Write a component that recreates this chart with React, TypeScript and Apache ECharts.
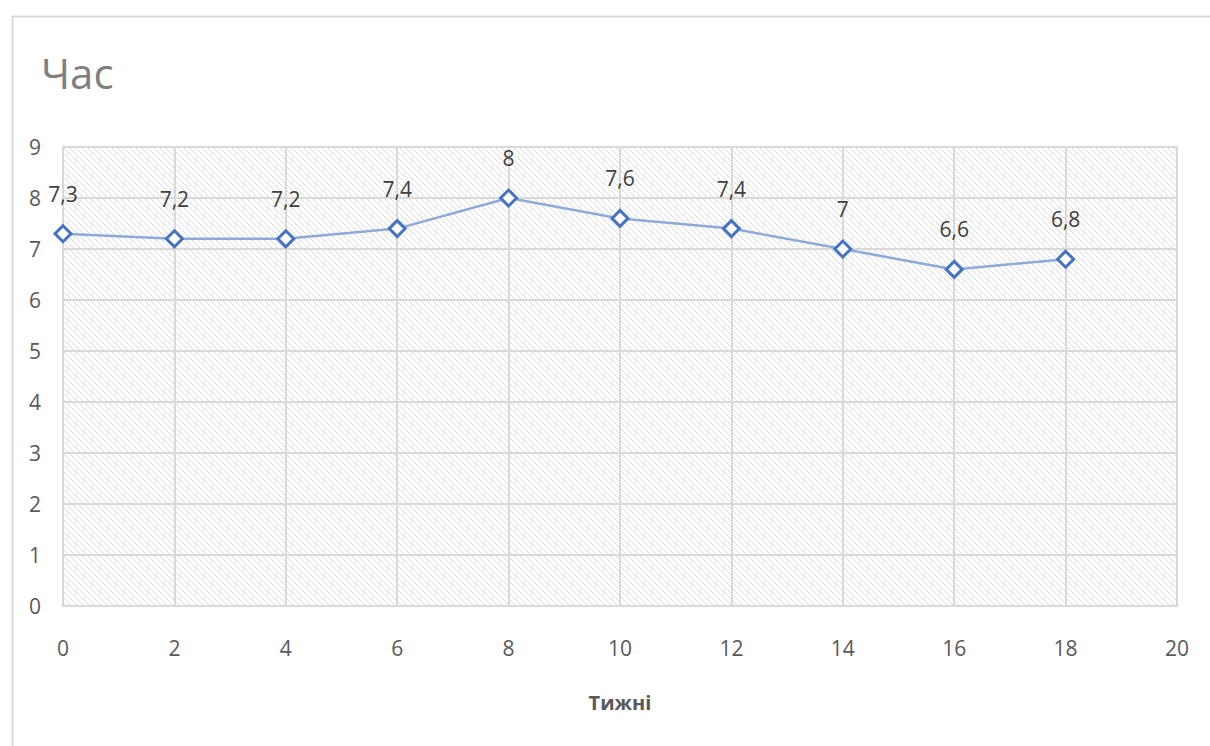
import React, { useEffect, useRef } from "react";
import * as echarts from "echarts";

// Weekly hours
const weeks: number[] = [0, 2, 4, 6, 8, 10, 12, 14, 16, 18];
const hours: number[] = [7.3, 7.2, 7.2, 7.4, 8, 7.6, 7.4, 7, 6.6, 6.8];

const titleText = "Час";
const xAxisName = "Тижні";

const FONT = "'Open Sans', sans-serif";

// Diagonal hatch tile used as the plot-area fill
function makeHatch(): HTMLCanvasElement {
  const size = 6;
  const c = document.createElement("canvas");
  c.width = size;
  c.height = size;
  const ctx = c.getContext("2d")!;
  ctx.fillStyle = "#ffffff";
  ctx.fillRect(0, 0, size, size);
  ctx.strokeStyle = "#dcdcdc";
  ctx.lineWidth = 1;
  ctx.beginPath();
  ctx.moveTo(-1, -1);
  ctx.lineTo(size + 1, size + 1);
  ctx.moveTo(size - 1, -1);
  ctx.lineTo(size + 1, 1);
  ctx.moveTo(-1, size - 1);
  ctx.lineTo(1, size + 1);
  ctx.stroke();
  return c;
}

export default function App() {
  const ref = useRef<HTMLDivElement>(null);

  useEffect(() => {
    if (!ref.current) return;
    const chart = echarts.init(ref.current, null, { renderer: "svg" });
    const hatch = makeHatch();

    chart.setOption({
      animation: false,
      backgroundColor: "#ffffff",
      textStyle: { fontFamily: FONT },
      title: {
        text: titleText,
        left: 36,
        top: 46,
        textStyle: {
          fontFamily: FONT,
          fontSize: 42,
          fontWeight: "normal",
          color: "#7f7f7f",
        },
      },
      graphic: [
        {
          type: "rect",
          left: 10,
          top: 14,
          shape: { width: 1300, height: 800 },
          style: { fill: "none", stroke: "#d9d9d9", lineWidth: 2 },
          silent: true,
          z: -10,
        },
      ],
      grid: {
        show: true,
        left: 63,
        right: 33,
        top: 147,
        bottom: 140,
        backgroundColor: {
          image: hatch,
          repeat: "repeat",
          imageWidth: 6,
          imageHeight: 6,
        },
        borderColor: "#d9d9d9",
        borderWidth: 2,
      },
      xAxis: {
        type: "value",
        min: 0,
        max: 20,
        interval: 2,
        name: xAxisName,
        nameLocation: "middle",
        nameGap: 86,
        nameTextStyle: {
          fontFamily: FONT,
          fontSize: 20,
          fontWeight: "bold",
          color: "#595959",
        },
        axisLine: { show: false },
        axisTick: { show: false },
        axisLabel: {
          margin: 31,
          fontSize: 21,
          color: "#595959",
          fontFamily: FONT,
        },
        splitLine: { show: true, lineStyle: { color: "#d9d9d9", width: 2 } },
      },
      yAxis: {
        type: "value",
        min: 0,
        max: 9,
        interval: 1,
        axisLine: { show: false },
        axisTick: { show: false },
        axisLabel: {
          margin: 22,
          fontSize: 21,
          color: "#595959",
          fontFamily: FONT,
        },
        splitLine: { show: true, lineStyle: { color: "#d9d9d9", width: 2 } },
      },
      series: [
        {
          type: "line",
          data: weeks.map((w, i) => [w, hours[i]]),
          lineStyle: { color: "#8eaadb", width: 2.5 },
          symbol: "diamond",
          symbolSize: 16,
          itemStyle: { color: "#ffffff", borderColor: "#4472c4", borderWidth: 3 },
          label: {
            show: true,
            position: "top",
            distance: 20,
            fontSize: 21,
            color: "#404040",
            fontFamily: FONT,
            formatter: (p: any) => String(p.value[1]).replace(".", ","),
          },
          z: 5,
        },
      ],
    });

    return () => chart.dispose();
  }, []);

  return (
    <div
      ref={ref}
      style={{ position: "fixed", left: 0, top: 0, width: 1210, height: 746 }}
    />
  );
}
